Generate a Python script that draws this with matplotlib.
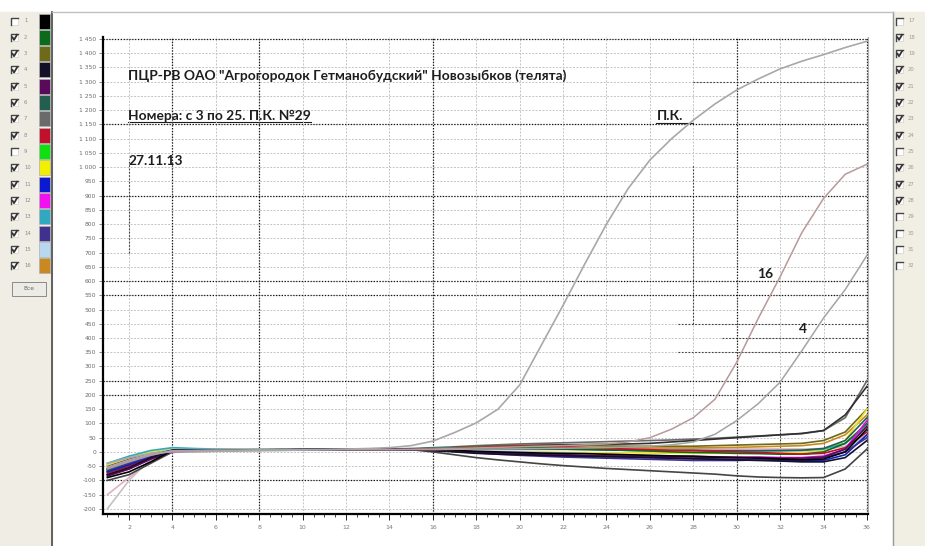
import numpy as np
import matplotlib.pyplot as plt
from matplotlib.patches import Rectangle
from matplotlib.ticker import FuncFormatter, MultipleLocator

W, H = 925, 546

# ---- data (fluorescence per cycle) ----
cycles = list(range(1, 37))

pk = [-40, -20, -5, 0, 0, 2, 3, 5, 5, 7, 8, 10, 12, 15, 22, 38, 68, 102, 150, 235,
      375, 515, 660, 800, 925, 1025, 1100, 1165, 1222, 1271, 1310, 1345, 1372, 1395, 1420, 1442]
s16 = [-55, -30, -10, 4, 5, 6, 6, 7, 7, 8, 8, 8, 8, 8, 9, 10, 12, 14, 16, 18,
       20, 22, 25, 28, 35, 50, 80, 120, 185, 315, 470, 615, 770, 890, 975, 1010]
s4 = [-60, -35, -12, 4, 5, 6, 6, 7, 7, 7, 8, 8, 8, 8, 8, 8, 9, 10, 10, 11,
      12, 13, 14, 15, 17, 20, 25, 35, 62, 110, 170, 245, 355, 470, 570, 690]

flat_black = [-90, -70, -35, 5, 6, 6, 7, 7, 7, 8, 8, 8, 8, 8, 8, 6, 5, 2, 0, -2,
              -4, -5, -6, -8, -10, -12, -14, -15, -18, -20, -22, -25, -28, -25, 0, 80]
flat_dkgreen = [-70, -45, -15, 5, 6, 6, 6, 7, 7, 7, 8, 8, 8, 8, 8, 10, 12, 14, 15, 15,
                14, 12, 10, 8, 5, 3, 0, -2, -3, -5, -6, -8, -8, 0, 30, 100]
flat_olive = [-60, -35, -10, 8, 8, 7, 7, 7, 8, 8, 8, 9, 9, 9, 10, 12, 15, 18, 20, 22,
              22, 22, 22, 21, 20, 20, 20, 20, 22, 24, 26, 28, 30, 40, 70, 150]
flat_navy = [-80, -55, -20, 4, 5, 6, 6, 7, 7, 7, 8, 8, 8, 8, 7, 5, 0, -5, -8, -10,
             -12, -14, -15, -17, -18, -20, -22, -24, -26, -28, -30, -32, -35, -35, -20, 40]
flat_purple = [-85, -60, -25, 2, 4, 5, 6, 6, 7, 7, 7, 8, 8, 8, 8, 6, 3, 0, -3, -5,
               -8, -10, -12, -14, -15, -16, -18, -18, -20, -20, -20, -22, -22, -18, 10, 90]
flat_teal = [-65, -40, -12, 6, 7, 7, 7, 7, 8, 8, 8, 8, 8, 8, 9, 9, 10, 10, 10, 10,
             10, 10, 8, 7, 6, 5, 5, 5, 4, 4, 4, 5, 6, 12, 40, 120]
flat_gray = [-50, -25, -5, 10, 9, 8, 8, 8, 8, 8, 9, 9, 10, 10, 12, 15, 18, 22, 25, 28,
             30, 32, 34, 36, 38, 40, 42, 45, 48, 52, 56, 60, 64, 75, 120, 250]
flat_crimson = [-75, -50, -18, 4, 5, 6, 6, 7, 7, 8, 8, 8, 8, 8, 8, 10, 12, 15, 18, 20,
                20, 18, 15, 12, 10, 8, 5, 5, 2, 0, -2, -5, -8, -5, 15, 70]
flat_yellow = [-45, -20, 0, 12, 10, 9, 9, 9, 9, 9, 9, 10, 10, 10, 10, 8, 5, 2, 0, 0,
               0, -2, -2, -3, -3, -4, -5, -5, -5, -5, -4, -3, -2, 5, 40, 150]
flat_blue = [-70, -45, -15, 5, 6, 6, 7, 7, 7, 8, 8, 8, 8, 8, 8, 6, 2, -2, -5, -8,
             -10, -12, -14, -16, -18, -20, -22, -24, -25, -26, -28, -30, -32, -30, -10, 60]
flat_magenta = [-80, -60, -25, 0, 3, 5, 6, 6, 7, 7, 7, 8, 8, 8, 8, 6, 4, 0, -5, -8,
                -10, -12, -14, -14, -15, -15, -16, -16, -17, -18, -18, -20, -20, -15, 10, 110]
flat_cyan = [-40, -15, 5, 15, 12, 10, 9, 9, 9, 9, 9, 9, 9, 10, 10, 12, 14, 15, 15, 14,
             12, 10, 10, 8, 8, 6, 5, 5, 4, 4, 4, 4, 5, 10, 30, 90]
flat_indigo = [-60, -40, -12, 6, 7, 7, 7, 7, 8, 8, 8, 8, 8, 8, 8, 5, 2, -3, -8, -12,
               -15, -18, -20, -22, -24, -26, -28, -30, -30, -30, -28, -28, -26, -20, 0, 50]
flat_ltblue = [-55, -30, -8, 8, 8, 8, 8, 8, 8, 8, 8, 8, 9, 9, 9, 8, 6, 4, 2, 0,
               -2, -4, -6, -8, -10, -12, -14, -16, -18, -20, -20, -20, -20, -15, 5, 60]
flat_orange = [-65, -40, -12, 5, 6, 6, 7, 7, 7, 8, 8, 8, 8, 8, 9, 10, 12, 14, 15, 16,
               16, 16, 16, 15, 15, 14, 14, 14, 15, 16, 18, 20, 22, 30, 60, 130]
flat_low = [-100, -80, -40, 0, 4, 5, 6, 6, 7, 7, 7, 8, 8, 8, 8, 0, -10, -20, -28, -35,
            -42, -48, -53, -58, -62, -66, -70, -74, -78, -84, -88, -90, -91, -90, -60, 10]
flat_top = [-60, -35, -10, 6, 7, 7, 7, 8, 8, 8, 8, 8, 9, 9, 10, 12, 15, 18, 20, 22,
            24, 25, 26, 27, 28, 30, 35, 40, 45, 50, 55, 60, 65, 75, 130, 230]
faint_1 = [-200, -100, -25, 0, 3, 4, 5, 5, 6, 6, 6, 7, 7, 7, 7, 8, 8, 8, 8, 8,
           8, 8, 8, 8, 8, 8, 8, 8, 8, 8, 8, 8, 8, 8, 20, 60]
faint_2 = [-150, -90, -30, -2, 2, 4, 5, 5, 6, 6, 6, 7, 7, 7, 7, 8, 9, 10, 10, 10,
           10, 10, 10, 10, 10, 10, 10, 10, 10, 10, 10, 10, 10, 12, 30, 90]

flat_series = [
    (faint_1, '#c8c0c0'), (faint_2, '#e0b0c0'),
    (flat_gray, '#6a6a6a'), (flat_top, '#303030'), (flat_low, '#454545'),
    (flat_olive, '#6e6a1a'), (flat_orange, '#c88a20'), (flat_yellow, '#e8e030'),
    (flat_cyan, '#30a8c0'), (flat_ltblue, '#a8c8e8'), (flat_teal, '#235f50'),
    (flat_dkgreen, '#0b6b1b'), (flat_crimson, '#c0102a'), (flat_magenta, '#e010e0'),
    (flat_blue, '#1020c0'), (flat_indigo, '#403090'), (flat_purple, '#5a0a5a'),
    (flat_black, '#000000'), (flat_navy, '#141028'),
]

yticks = list(range(-200, 1451, 50))
xticks = list(range(2, 37, 2))
dark_h = [1450, 1150, 900, 600, 550, 250, 200, -100]
dark_v = [4, 8, 16, 30, 36]
part_h = [(1300, 28, 36.05), (450, 27.3, 36.05), (400, 29.3, 36.05), (350, 27.3, 36.05)]
part_v = [(2, 700, 1030), (28, 450, 1010), (32, -218, 250), (34, -218, 250)]

left_nums = [str(i) for i in range(1, 17)]
left_checked = [False, True, True, True, True, True, True, True,
                False, True, True, True, True, True, True, True]
left_colors = ['#000000', '#0b6b1b', '#6e6a1a', '#141028', '#5a0a5a', '#235f50',
               '#6a6a6a', '#c0102a', '#10e010', '#f0f000', '#0a1ad0', '#f010f0',
               '#30a8c0', '#403090', '#b8d8f0', '#c88a20']
right_nums = [str(i) for i in range(17, 33)]
right_checked = [False, True, True, True, True, True, True, True,
                 False, True, True, True, False, False, False, False]

# ---- figure ----
fig = plt.figure(figsize=(W / 100, H / 100), dpi=100)
bg = fig.add_axes([0, 0, 1, 1], zorder=0)
bg.set_xlim(0, W)
bg.set_ylim(H, 0)
bg.axis('off')
bg.add_patch(Rectangle((0, 0), W, H, color='white'))
bg.add_patch(Rectangle((0, 12), 52, H, color='#efede4'))
bg.add_patch(Rectangle((893, 12), W - 893, H, color='#f1efe4'))
bg.plot([52, 52], [12, H], color='#555555', lw=1.3)
bg.plot([893, 893], [12, H], color='#9a9a9a', lw=1.0)
bg.plot([52, 893], [12, 12], color='#c0c0c0', lw=1.0)


def checkbox(x, y, checked):
    bg.add_patch(Rectangle((x, y - 3.5), 7, 7, facecolor='white', edgecolor='#d0d0d0', lw=0.5))
    bg.plot([x, x, x + 7], [y + 3.5, y - 3.5, y - 3.5], color='#444444', lw=1.0)
    if checked:
        bg.plot([x + 1.5, x + 3, x + 6], [y, y + 2.5, y - 2.5], color='#333333', lw=1.3)


row_y = [21 + i * 16.33 for i in range(16)]
for y, num, chk, col in zip(row_y, left_nums, left_checked, left_colors):
    checkbox(11, y, chk)
    bg.text(24, y, num, fontsize=3.8, color='#8a8a8a', va='center')
    bg.add_patch(Rectangle((39, y - 7.5), 11, 15, facecolor=col, edgecolor='#b0b0b0', lw=0.5))

bg.add_patch(Rectangle((12, 282), 34, 14, facecolor='#ecebe6', edgecolor='#8a8a8a', lw=0.7))
bg.text(29, 289, 'Все', fontsize=4.2, color='#666666', ha='center', va='center')

for y, num, chk in zip(row_y, right_nums, right_checked):
    checkbox(896, y, chk)
    bg.text(908, y, num, fontsize=3.8, color='#9a9a9a', va='center')

# ---- plot ----
ax = fig.add_axes([103 / W, 1 - 514 / H, 765 / W, 477 / H], zorder=1)
ax.set_facecolor('none')
ax.set_xlim(0.8, 36.05)
ax.set_ylim(-218, 1457)

for v in yticks:
    ax.axhline(v, color='#c4c4c4', lw=0.7, ls=(0, (2, 1.5)), zorder=0.5)
for x in xticks:
    ax.axvline(x, color='#c4c4c4', lw=0.7, ls=(0, (2, 1.5)), zorder=0.5)
for v in dark_h:
    ax.axhline(v, color='#151515', lw=0.9, ls=(0, (1, 1.3)), zorder=0.7)
for x in dark_v:
    ax.axvline(x, color='#151515', lw=0.9, ls=(0, (1, 1.3)), zorder=0.7)
for v, x0, x1 in part_h:
    ax.plot([x0, x1], [v, v], color='#404040', lw=0.8, ls=(0, (1.5, 1.5)), zorder=0.6)
for x, y0, y1 in part_v:
    ax.plot([x, x], [y0, y1], color='#404040', lw=0.8, ls=(0, (1.5, 1.5)), zorder=0.6)

for vals, col in flat_series:
    ax.plot(cycles, vals, color=col, lw=1.2, zorder=2)
ax.plot(cycles, s4, color='#a4a4a4', lw=1.1, zorder=2)
ax.plot(cycles, s16, color='#b89a9a', lw=1.1, zorder=2)
ax.plot(cycles, pk, color='#a8a8a8', lw=1.2, zorder=2)

ax.set_yticks(yticks)
ax.yaxis.set_major_formatter(FuncFormatter(
    lambda v, p: f"{int(v) // 1000} {int(v) % 1000:03d}" if v >= 1000 else f"{int(v)}"))
ax.set_xticks(xticks)
ax.xaxis.set_minor_locator(MultipleLocator(0.5))
ax.tick_params(axis='y', length=3, width=0.6, color='#777777', labelsize=4.3,
               labelcolor='#6a6a6a', pad=2)
ax.tick_params(axis='x', which='major', length=4, width=0.7, color='#222222', labelsize=4.5,
               labelcolor='#7a7a7a', pad=4)
ax.tick_params(axis='x', which='minor', length=2.5, width=0.6, color='#222222')
ax.spines['top'].set_visible(False)
ax.spines['right'].set_color('#b0b0b0')
ax.spines['right'].set_linewidth(0.8)
for s in ('left', 'bottom'):
    ax.spines[s].set_color('black')
    ax.spines[s].set_linewidth(1.6)

fam = ['Lato', 'DejaVu Sans']
tc = '#1e1e1e'
fs = 9.9
t1 = ax.text(0.033, 0.910, 'ПЦР-РВ ОАО "Агрогородок Гетманобудский" Новозыбков (телята)',
             transform=ax.transAxes, fontsize=fs, fontweight='bold', family=fam, color=tc)
t2 = ax.text(0.033, 0.826, 'Номера: с 3 по 25. П.К. №29', transform=ax.transAxes,
             fontsize=fs, fontweight='bold', family=fam, color=tc)
t3 = ax.text(0.033, 0.732, '27.11.13', transform=ax.transAxes,
             fontsize=fs, fontweight='bold', family=fam, color=tc)
t4 = ax.text(26.3, 1165, 'П.К.', fontsize=fs, fontweight='bold', family=fam, color=tc)
ax.text(30.95, 610, '16', fontsize=fs, fontweight='bold', family=fam, color=tc)
ax.text(32.85, 418, '4', fontsize=fs, fontweight='bold', family=fam, color=tc)

fig.canvas.draw()
r = fig.canvas.get_renderer()
for t, extra in ((t2, 0), (t4, 10)):
    bb = t.get_window_extent(r)
    yb = H - bb.y0 + 0.5
    bg.plot([bb.x0, bb.x1 + extra], [yb, yb], color=tc, lw=0.8)

fig.savefig('out.png', dpi=100)
